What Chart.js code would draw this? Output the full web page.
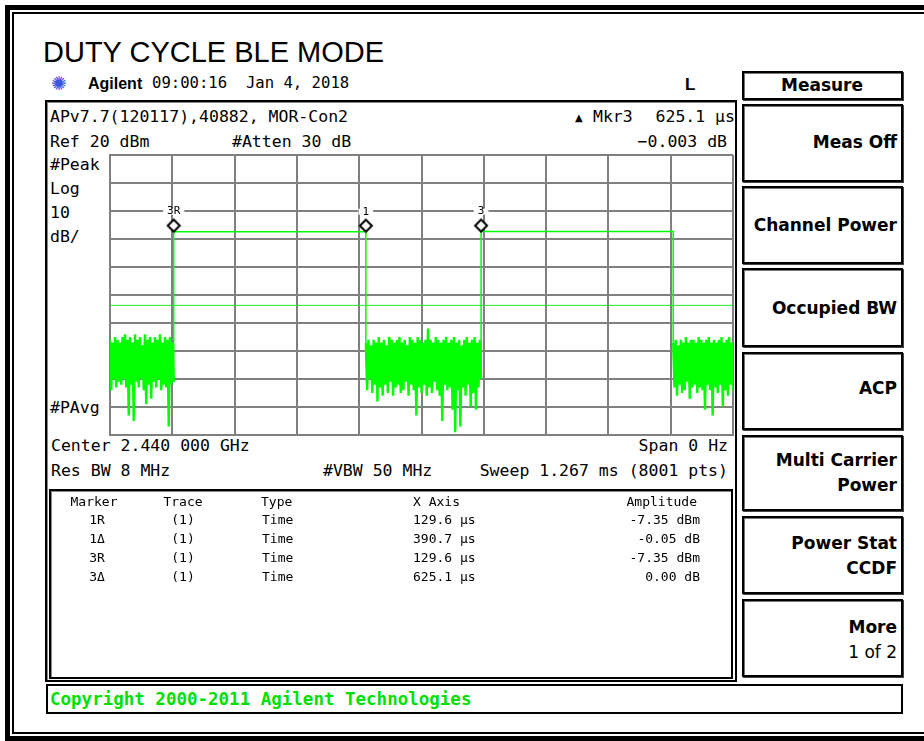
<!DOCTYPE html>
<html lang="en">
<head>
<meta charset="UTF-8"/>
<title>Duty cycle BLE mode</title>
<script src="https://cdn.jsdelivr.net/npm/chart.js@4.4.0/dist/chart.umd.min.js"></script>
<style>
  html, body { margin: 0; padding: 0; background: #fff; overflow: hidden; }
  #page { position: relative; width: 924px; height: 741px; overflow: hidden; background: #fff; }
  .t { position: absolute; white-space: pre; line-height: 1; transform: translateY(-50%); color: #000; }
  .r { transform: translate(-100%, -50%); }
  .c { transform: translate(-50%, -50%); }
  .mono { font-family: "DejaVu Sans Mono", monospace; font-size: 16.5px; }
  .small { font-family: "DejaVu Sans Mono", monospace; font-size: 13px; }
  .box { position: absolute; box-sizing: border-box; }
  .key { position: absolute; left: 742px; width: 161px; box-sizing: border-box;
         border: 2px solid #000; box-shadow: inset 1px 1px 0 #777, 1px 1px 0 #444; }
  .kl { font-family: "DejaVu Sans", sans-serif; font-weight: bold; font-size: 17px; }
  #chart { position: absolute; left: 0; top: 0; pointer-events: none; }
</style>
</head>
<body>
<div id="page">
  <!-- outer frame -->
  <div class="box" style="left:5px;top:5px;width:1000px;height:736px;border-left:5px solid #000;border-top:5px solid #000;border-bottom:5px solid #000;"></div>
  <div class="box" style="left:12px;top:12px;width:1000px;height:722px;border-left:2px solid #000;border-top:2px solid #000;border-bottom:2px solid #000;"></div>

  <div style="position:absolute;left:43px;top:38px;font-family:'Liberation Sans',Arial,sans-serif;font-size:29px;line-height:1;white-space:pre;">DUTY CYCLE BLE MODE</div>

  <div class="t" style="left:51px;top:83px;font-family:'DejaVu Sans';font-size:19px;color:#3a55e0;">✺</div>
  <div class="t" style="left:88px;top:84px;font-family:'Liberation Sans',Arial;font-weight:bold;font-size:16px;">Agilent</div>
  <div class="t mono" style="left:152px;top:84px;font-size:15.6px;">09:00:16  Jan 4, 2018</div>
  <div class="t" style="left:685px;top:84px;font-family:'Liberation Sans',Arial;font-weight:bold;font-size:17px;">L</div>

  <!-- instrument screen -->
  <div class="box" style="left:45px;top:100px;width:692px;height:582px;border:2px solid #000;box-shadow:inset 1px 1px 0 #888;"></div>
  <div class="t mono" style="left:50px;top:117px;">APv7.7(120117),40882, MOR-Con2</div>
  <div class="t" style="left:575px;top:118px;font-size:10px;font-family:'DejaVu Sans';">▲</div>
  <div class="t mono" style="left:593px;top:117px;">Mkr3</div>
  <div class="t mono r" style="left:735px;top:117px;">625.1 µs</div>
  <div class="t mono" style="left:50px;top:142px;">Ref 20 dBm</div>
  <div class="t mono" style="left:232px;top:142px;">#Atten 30 dB</div>
  <div class="t mono r" style="left:727px;top:142px;">−0.003 dB</div>

  <div class="t mono" style="left:50px;top:165px;">#Peak</div>
  <div class="t mono" style="left:50px;top:189px;">Log</div>
  <div class="t mono" style="left:50px;top:213px;">10</div>
  <div class="t mono" style="left:50px;top:237px;">dB/</div>
  <div class="t mono" style="left:50px;top:408px;">#PAvg</div>

  <div class="t mono" style="left:51px;top:446px;">Center 2.440 000 GHz</div>
  <div class="t mono r" style="left:728px;top:446px;">Span 0 Hz</div>
  <div class="t mono" style="left:51px;top:471px;">Res BW 8 MHz</div>
  <div class="t mono" style="left:323px;top:471px;">#VBW 50 MHz</div>
  <div class="t mono r" style="left:728px;top:471px;">Sweep 1.267 ms (8001 pts)</div>

  <div class="box" id="table" style="left:49px;top:489px;width:684px;height:190px;border:2px solid #000;box-shadow:inset 1px 1px 0 #888;"></div>

  <!-- softkeys -->
  <div class="key" style="top:71px;height:29px;"></div>
  <div class="t kl c" style="left:822px;top:85px;">Measure</div>
  <div class="key" style="top:104px;height:78px;"></div>
  <div class="t kl r" style="left:897px;top:142px;">Meas Off</div>
  <div class="key" style="top:186px;height:78px;"></div>
  <div class="t kl r" style="left:897px;top:225px;">Channel Power</div>
  <div class="key" style="top:268px;height:79px;"></div>
  <div class="t kl r" style="left:897px;top:308px;">Occupied BW</div>
  <div class="key" style="top:352px;height:78px;"></div>
  <div class="t kl r" style="left:897px;top:388px;">ACP</div>
  <div class="key" style="top:435px;height:76px;"></div>
  <div class="t kl r" style="left:897px;top:460px;">Multi Carrier</div>
  <div class="t kl r" style="left:897px;top:485px;">Power</div>
  <div class="key" style="top:516px;height:78px;"></div>
  <div class="t kl r" style="left:897px;top:543px;">Power Stat</div>
  <div class="t kl r" style="left:897px;top:568px;">CCDF</div>
  <div class="key" style="top:599px;height:78px;"></div>
  <div class="t kl r" style="left:897px;top:627px;">More</div>
  <div class="t r" style="left:897px;top:652px;font-family:'DejaVu Sans';font-size:17px;">1 of 2</div>

  <div class="box" style="left:46px;top:684px;width:857px;height:30px;border:2px solid #000;"></div>
  <div class="t" style="left:50px;top:700px;font-family:'DejaVu Sans Mono';font-weight:bold;font-size:17.5px;color:#00e000;">Copyright 2000-2011 Agilent Technologies</div>

  <canvas id="chart" width="924" height="741"></canvas>
</div>

<script>
// sweep and graticule
const sweepTime = 1267; // µs
const timeDivs = [0, 126.7, 253.4, 380.1, 506.8, 633.5, 760.2, 886.9, 1013.6, 1140.3, 1267];
const levelDivs = [20, 10, 0, -10, -20, -30, -40, -50, -60, -70, -80];

// noise floor between bursts (dBm), read as peak / valley pairs
const noise1 = [-46,-64, -47,-60, -45,-63, -46,-61, -47,-62, -45,-60, -44,-63, -46,-73,
                -45,-62, -47,-75, -44,-61, -46,-63, -45,-60, -48,-64, -44,-69, -46,-62,
                -45,-67, -47,-61, -45,-63, -46,-60, -44,-64, -47,-62, -45,-63, -46,-77,
                -45,-62, -47,-61];
const noise2 = [-47,-64, -46,-60, -48,-65, -46,-62, -47,-68, -45,-63, -47,-66, -46,-62,
                -48,-65, -45,-61, -46,-66, -47,-63, -46,-62, -45,-65, -47,-64, -46,-61,
                -48,-66, -45,-62, -46,-64, -47,-73, -45,-63, -46,-65, -47,-62, -46,-66,
                -42,-63, -46,-65, -47,-61, -45,-64, -46,-66, -47,-75, -46,-62, -45,-64,
                -47,-63, -46,-71, -45,-79, -47,-64, -46,-77, -48,-63, -46,-66, -45,-62,
                -47,-70, -46,-65, -45,-71, -47,-63, -46,-60];
const noise3 = [-47,-63, -46,-66, -48,-62, -46,-65, -47,-64, -45,-61, -47,-67, -46,-63,
                -46,-62, -47,-65, -45,-63, -46,-64, -47,-71, -46,-62, -45,-64, -47,-73,
                -46,-63, -47,-65, -46,-62, -45,-70, -47,-64, -46,-66, -45,-62, -47,-64];

// bursts
const burstOn = [129.6, 754.7];
const burstOff = [520.3, 1145.4];
const burstLevel = [-7.40, -7.35];
const displayLine = -33.7;

// markers
const markerNames = ['3R', '1', '3'];
const markerTimes = [129.6, 520.3, 754.7];
const markerLevels = [-7.35, -7.40, -7.35];

// marker table
const rowNames = ['1R', '1Δ', '3R', '3Δ'];
const rowTrace = ['(1)', '(1)', '(1)', '(1)'];
const rowType = ['Time', 'Time', 'Time', 'Time'];
const rowX = ['129.6 µs', '390.7 µs', '129.6 µs', '625.1 µs'];
const rowAmp = ['-7.35 dBm', '-0.05 dB', '-7.35 dBm', '0.00 dB'];

function addText(txt, x, y, cls) {
  const d = document.createElement('div');
  d.className = 't small ' + (cls || '');
  d.style.left = x + 'px';
  d.style.top = y + 'px';
  d.textContent = txt;
  document.getElementById('page').appendChild(d);
}
addText('Marker', 94, 501, 'c');
addText('Trace', 183, 501, 'c');
addText('Type', 261, 501);
addText('X Axis', 413, 501);
addText('Amplitude', 697, 501, 'r');
const rowY = [519, 538, 557, 576];
rowNames.forEach((n, i) => {
  addText(n, 97, rowY[i], 'c');
  addText(rowTrace[i], 183, rowY[i], 'c');
  addText(rowType[i], 262, rowY[i]);
  addText(rowX[i], 413, rowY[i]);
  addText(rowAmp[i], 700, rowY[i], 'r');
});

// spread a run of sweep points evenly over its time span
function segment(vals, from, to) {
  const step = (to - from) / (vals.length - 1);
  return vals.map((v, i) => ({x: from + i * step, y: v}));
}

const noiseTrace = [
  ...segment(noise1, 0, burstOn[0]), {x: burstOn[0] + 1, y: null},
  ...segment(noise2, burstOff[0], burstOn[1]), {x: burstOn[1] + 1, y: null},
  ...segment(noise3, burstOff[1], sweepTime)
];

const burstTrace = [
  {x: burstOn[0], y: noise1[noise1.length - 1]},
  {x: burstOn[0], y: burstLevel[0]},
  {x: burstOff[0], y: burstLevel[0]},
  {x: burstOff[0], y: noise2[0]},
  {x: burstOff[0] + 1, y: null},
  {x: burstOn[1], y: noise2[noise2.length - 1]},
  {x: burstOn[1], y: burstLevel[1]},
  {x: burstOff[1], y: burstLevel[1]},
  {x: burstOff[1], y: noise3[0]}
];

// marker diamond, bottom tip sits on the point
function diamond() {
  const c = document.createElement('canvas');
  c.width = 16; c.height = 28;
  const g = c.getContext('2d');
  g.beginPath();
  g.moveTo(8, 2); g.lineTo(14, 8); g.lineTo(8, 14); g.lineTo(2, 8); g.closePath();
  g.fillStyle = '#fff'; g.fill();
  g.lineWidth = 2; g.strokeStyle = '#000'; g.stroke();
  return c;
}

const markerLabels = {
  id: 'markerLabels',
  afterDatasetsDraw(chart) {
    const {ctx, scales: {x, y}} = chart;
    ctx.save();
    ctx.font = '11px "DejaVu Sans Mono"';
    ctx.textAlign = 'center';
    ctx.textBaseline = 'middle';
    markerNames.forEach((name, i) => {
      const px = x.getPixelForValue(markerTimes[i]);
      const py = y.getPixelForValue(markerLevels[i]) - 20;
      const w = ctx.measureText(name).width + 8;
      ctx.fillStyle = '#fff';
      ctx.fillRect(px - w / 2, py - 3, w, 6);
      ctx.fillStyle = '#000';
      ctx.fillText(name, px, py);
    });
    ctx.restore();
  }
};

const grid = {color: '#808080', lineWidth: 2, drawTicks: false};

new Chart(document.getElementById('chart'), {
  type: 'line',
  data: {
    datasets: [
      {
        label: 'Markers',
        data: markerTimes.map((t, i) => ({x: t, y: markerLevels[i]})),
        showLine: false,
        pointStyle: diamond(),
        pointRadius: 6,
        clip: false
      },
      {
        label: 'Trace 1 bursts',
        data: burstTrace,
        borderColor: '#00ff00',
        borderWidth: 1.5,
        pointRadius: 0,
        spanGaps: false
      },
      {
        label: 'Trace 1 noise',
        data: noiseTrace,
        borderColor: '#00ff00',
        borderWidth: 2.4,
        borderJoinStyle: 'bevel',
        pointRadius: 0,
        spanGaps: false
      },
      {
        label: 'Display line',
        data: [{x: 0, y: displayLine}, {x: sweepTime, y: displayLine}],
        borderColor: '#22e822',
        borderWidth: 1,
        pointRadius: 0
      }
    ]
  },
  options: {
    responsive: false,
    animation: false,
    devicePixelRatio: 1,
    layout: {padding: {left: 110, top: 155, right: 191, bottom: 306}},
    plugins: {legend: {display: false}, tooltip: {enabled: false}},
    scales: {
      x: {
        type: 'linear', min: 0, max: sweepTime,
        ticks: {display: false}, grid: grid,
        border: {color: '#808080', width: 2},
        afterBuildTicks: s => { s.ticks = timeDivs.map(v => ({value: v})); }
      },
      y: {
        type: 'linear', min: -80, max: 20,
        ticks: {display: false}, grid: grid,
        border: {color: '#808080', width: 2},
        afterBuildTicks: s => { s.ticks = levelDivs.map(v => ({value: v})); }
      }
    }
  },
  plugins: [markerLabels]
});
</script>
</body>
</html>
